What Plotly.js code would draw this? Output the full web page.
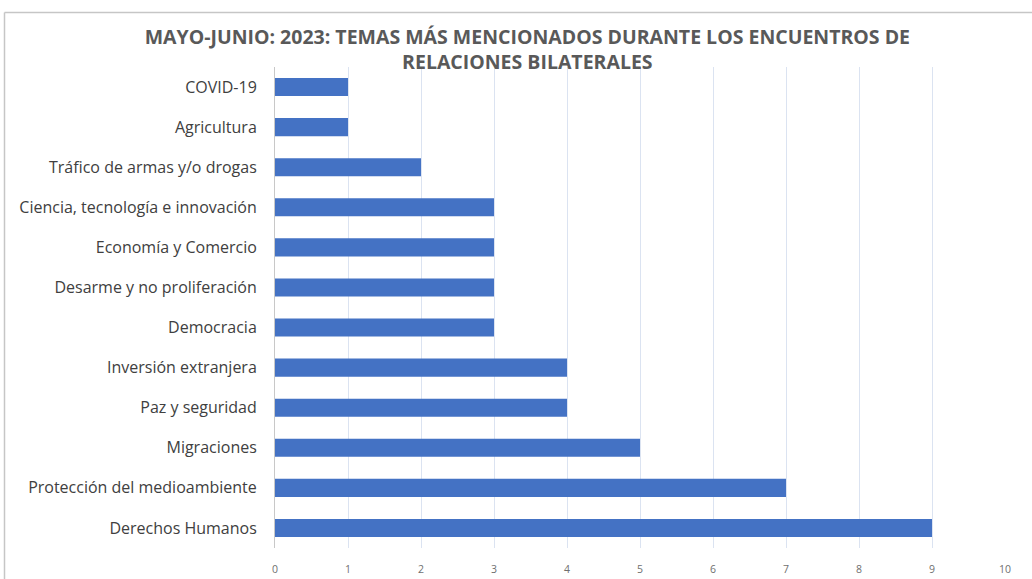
<!DOCTYPE html>
<html>
<head>
<meta charset="utf-8">
<script src="https://cdn.plot.ly/plotly-3.0.1.min.js"></script>
<style>html,body{margin:0;padding:0;background:#fff;}#chart{width:1032px;height:579px;}</style>
</head>
<body>
<div id="chart"></div>
<script>
const categories = [
  "Derechos Humanos",
  "Protección del medioambiente",
  "Migraciones",
  "Paz y seguridad",
  "Inversión extranjera",
  "Democracia",
  "Desarme y no proliferación",
  "Economía y Comercio",
  "Ciencia, tecnología e innovación",
  "Tráfico de armas y/o drogas",
  "Agricultura",
  "COVID-19"
];
const values = [9, 7, 5, 4, 4, 3, 3, 3, 3, 2, 1, 1];
const xTicks = [0, 1, 2, 3, 4, 5, 6, 7, 8, 9, 10];
const titleText = "MAYO-JUNIO: 2023: TEMAS MÁS MENCIONADOS DURANTE LOS ENCUENTROS DE<br>RELACIONES BILATERALES";

const L = 275, R = 27, T = 67, B = 31, W = 1032, H = 579;
const pw = W - L - R, ph = H - T - B;
const px = v => (v - L) / pw;
const py = v => (H - B - v) / ph;

const trace = {
  type: 'bar',
  orientation: 'h',
  y: categories,
  x: values,
  marker: {color: '#4472C4'},
  hoverinfo: 'x+y'
};

const layout = {
  width: W, height: H,
  margin: {l: L, r: R, t: T, b: B},
  paper_bgcolor: '#ffffff',
  plot_bgcolor: '#ffffff',
  bargap: 0.55,
  showlegend: false,
  title: {
    text: titleText,
    font: {family: 'Open Sans', size: 19.5, color: '#595959', weight: 700},
    x: 0.511, xanchor: 'center',
    y: 1 - 44/H, yanchor: 'middle'
  },
  xaxis: {
    range: [0, 10],
    tickvals: xTicks,
    ticktext: xTicks.map(String),
    showgrid: true,
    gridcolor: '#dbe3f1',
    gridwidth: 1,
    zeroline: false,
    showline: false,
    ticks: 'outside',
    ticklen: 11,
    tickcolor: 'rgba(0,0,0,0)',
    tickfont: {family: 'Open Sans', size: 10.5, color: '#6f6f6f'},
    fixedrange: true
  },
  yaxis: {
    type: 'category',
    categoryorder: 'array',
    categoryarray: categories,
    showgrid: false,
    zeroline: false,
    showline: true,
    linecolor: '#c8c8c8',
    linewidth: 1,
    ticks: 'outside',
    ticklen: 14,
    tickcolor: 'rgba(0,0,0,0)',
    tickfont: {family: 'Open Sans', size: 16, color: '#404040'},
    fixedrange: true
  },
  shapes: [
    {type: 'line', xref: 'paper', yref: 'paper', x0: px(4.5), x1: px(W), y0: py(12.5), y1: py(12.5), line: {color: '#c6c6c6', width: 1.5}},
    {type: 'line', xref: 'paper', yref: 'paper', x0: px(4.5), x1: px(4.5), y0: py(12.5), y1: py(H), line: {color: '#c6c6c6', width: 1.5}}
  ]
};

Plotly.newPlot('chart', [trace], layout, {displayModeBar: false, staticPlot: true});
</script>
</body>
</html>
